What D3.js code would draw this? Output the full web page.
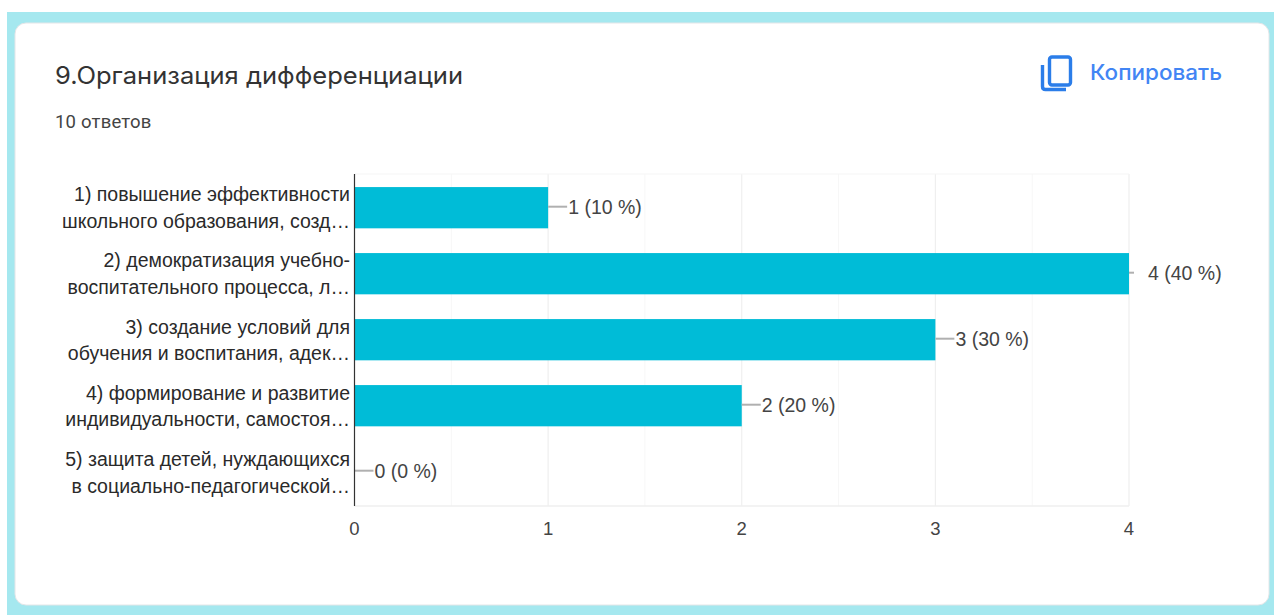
<!DOCTYPE html>
<html>
<head>
<meta charset="utf-8">
<script src="https://cdn.jsdelivr.net/npm/d3@7"></script>
<style>
html, body { margin: 0; padding: 0; background: #fff; overflow: hidden; }
svg { display: block; }
</style>
</head>
<body>
<svg id="chart" width="1274" height="615"></svg>
<script>
"use strict";

// chart values
var labelsFirst = [
    "1) повышение эффективности",
    "2) демократизация учебно-",
    "3) создание условий для",
    "4) формирование и развитие",
    "5) защита детей, нуждающихся"
];
var labelsSecond = [
    "школьного образования, созд…",
    "воспитательного процесса, л…",
    "обучения и воспитания, адек…",
    "индивидуальности, самостоя…",
    "в социально-педагогической…"
];
var counts = [1, 4, 3, 2, 0];
var percents = [10, 40, 30, 20, 0];
var xTicks = [0, 1, 2, 3, 4];
var minorTicks = [0.5, 1.5, 2.5, 3.5];

var svg = d3.select("#chart");
var sans = "'Liberation Sans', Arial, sans-serif";
var heading = "Inter, 'Noto Sans', sans-serif";

// page frame
svg.append("rect").attr("x", 7).attr("y", 12).attr("width", 1267).attr("height", 603).attr("fill", "#a5e8ef");
svg.append("rect").attr("x", 15).attr("y", 23).attr("width", 1254).attr("height", 582).attr("rx", 11)
    .attr("fill", "#fff").attr("stroke", "#e4e6e8").attr("stroke-width", 1);

// header
svg.append("text").attr("x", 55).attr("y", 84).attr("font-family", heading).attr("font-size", 24)
    .attr("fill", "#333").attr("textLength", 408).attr("lengthAdjust", "spacingAndGlyphs")
    .text("9.Организация дифференциации");
svg.append("text").attr("x", 55).attr("y", 128).attr("font-family", "Roboto, sans-serif").attr("font-size", 18.5)
    .attr("letter-spacing", 0.2).attr("fill", "#444").text("10 ответов");
svg.append("text").attr("x", 1090).attr("y", 80).attr("font-family", heading).attr("font-size", 21)
    .attr("font-weight", 500).attr("fill", "#4285f4").attr("textLength", 132).attr("lengthAdjust", "spacingAndGlyphs")
    .text("Копировать");

// copy icon
var icon = svg.append("g").attr("fill", "none").attr("stroke", "#2b7de9").attr("stroke-width", 3.4);
icon.append("rect").attr("x", 1049.5).attr("y", 57).attr("width", 21).attr("height", 28).attr("rx", 2.5);
icon.append("path").attr("d", "M1042.5 65V86.5Q1042.5 89.5 1045.5 89.5H1066");

// scales
var x = d3.scaleLinear().domain([0, 4]).range([354.5, 1129]);
var y = d3.scaleBand().domain(d3.range(counts.length)).range([174.7, 504.7]).paddingInner(0.375).paddingOuter(0.1875);
var plotTop = 174, plotBottom = 506;

// grid
var grid = svg.append("g");
grid.selectAll(".minor").data(minorTicks).enter().append("line")
    .attr("x1", function(d) { return x(d); }).attr("x2", function(d) { return x(d); })
    .attr("y1", plotTop).attr("y2", plotBottom).attr("stroke", "#f7f7f7").attr("stroke-width", 1);
grid.selectAll(".major").data(xTicks.slice(1)).enter().append("line")
    .attr("x1", function(d) { return x(d); }).attr("x2", function(d) { return x(d); })
    .attr("y1", plotTop).attr("y2", plotBottom).attr("stroke", "#efefef").attr("stroke-width", 1.2);
grid.append("line").attr("x1", x(0)).attr("x2", x(4)).attr("y1", plotBottom).attr("y2", plotBottom)
    .attr("stroke", "#efefef").attr("stroke-width", 1.5);
grid.append("line").attr("x1", x(0)).attr("x2", x(4)).attr("y1", plotTop).attr("y2", plotTop)
    .attr("stroke", "#f5f5f5").attr("stroke-width", 1);

// bars
svg.selectAll(".bar").data(counts).enter().append("rect")
    .attr("class", "bar")
    .attr("x", x(0))
    .attr("y", function(d, i) { return y(i); })
    .attr("width", function(d) { return x(d) - x(0); })
    .attr("height", y.bandwidth())
    .attr("fill", "#00bcd7");

// leader lines and value labels
svg.selectAll(".leader").data(counts).enter().append("line")
    .attr("class", "leader")
    .attr("x1", function(d) { return x(d); })
    .attr("x2", function(d) { return x(d) + (d === 4 ? 5 : 19); })
    .attr("y1", function(d, i) { return y(i) + y.bandwidth() / 2 - 1; })
    .attr("y2", function(d, i) { return y(i) + y.bandwidth() / 2 - 1; })
    .attr("stroke", "#b0b0b0").attr("stroke-width", 2);
svg.selectAll(".val").data(counts).enter().append("text")
    .attr("class", "val")
    .attr("x", function(d) { return x(d) + (d === 4 ? 19 : 20); })
    .attr("y", function(d, i) { return y(i) + y.bandwidth() / 2 + 6.5; })
    .attr("font-family", sans).attr("font-size", 19.5).attr("fill", "#444")
    .text(function(d, i) { return d + " (" + percents[i] + " %)"; });

// category labels
var cats = svg.selectAll(".cat").data(labelsFirst).enter().append("text")
    .attr("class", "cat").attr("text-anchor", "end")
    .attr("font-family", sans).attr("font-size", 19.5).attr("fill", "#2a2a2a");
cats.append("tspan").attr("x", 350)
    .attr("y", function(d, i) { return y(i) + y.bandwidth() / 2 - 6.5 + i * 0.25; })
    .text(function(d) { return d; });
cats.append("tspan").attr("x", 350)
    .attr("y", function(d, i) { return y(i) + y.bandwidth() / 2 + 20 + i * 0.25; })
    .text(function(d, i) { return labelsSecond[i]; });

// axis line and tick labels
svg.append("line").attr("x1", x(0)).attr("x2", x(0)).attr("y1", plotTop).attr("y2", plotBottom)
    .attr("stroke", "#333").attr("stroke-width", 1.2);
svg.selectAll(".tick-label").data(xTicks).enter().append("text")
    .attr("class", "tick-label").attr("text-anchor", "middle")
    .attr("x", function(d) { return x(d); }).attr("y", 535)
    .attr("font-family", sans).attr("font-size", 18.5).attr("fill", "#444")
    .text(function(d) { return d; });
</script>
</body>
</html>
